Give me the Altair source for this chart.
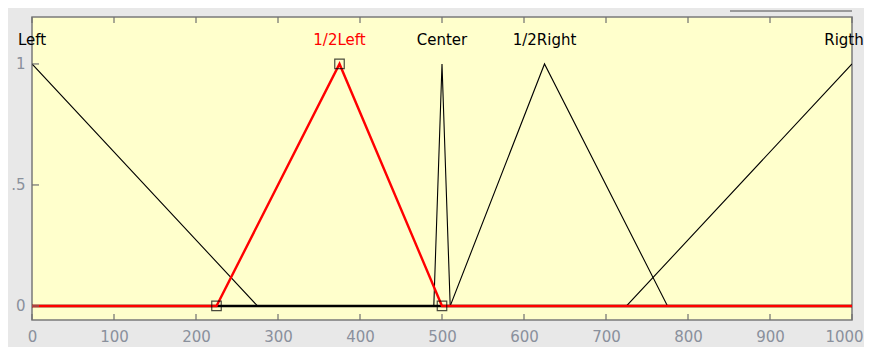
import altair as alt
import pandas as pd

# Membership functions (x breakpoints, y values)
mf_names = ["Left", "1/2Left", "Center", "1/2Right", "Rigth"]
mf_x = [
    [0, 275, 1000],
    [0, 225, 375, 500, 1000],
    [0, 490, 500, 510, 1000],
    [0, 510, 625, 775, 1000],
    [0, 725, 1000],
]
mf_y = [
    [1, 0, 0],
    [0, 0, 1, 0, 0],
    [0, 0, 1, 0, 0],
    [0, 0, 1, 0, 0],
    [0, 0, 1],
]
label_x = [0, 375, 500, 625, 1000]
label_y = [1.1, 1.1, 1.1, 1.1, 1.1]
selected = "1/2Left"
x_ticks = [0, 100, 200, 300, 400, 500, 600, 700, 800, 900, 1000]
y_ticks = [0, 0.5, 1]

rows = []
for name, xs_, ys_ in zip(mf_names, mf_x, mf_y):
    for i, (xv, yv) in enumerate(zip(xs_, ys_)):
        rows.append({"name": name, "x": xv, "y": yv, "order": i})
df = pd.DataFrame(rows)
sel_df = df[df["name"] == selected]
oth_df = df[df["name"] != selected]
vert_df = sel_df[(sel_df["x"] > 0) & (sel_df["x"] < 1000)]
lab_df = pd.DataFrame({"name": mf_names, "x": label_x, "y": label_y,
                       "col": ["red" if n == selected else "black" for n in mf_names]})
lab_main = lab_df[lab_df["x"] < 1000]
lab_edge = lab_df[lab_df["x"] >= 1000]
tick_df = pd.DataFrame({"x": x_ticks})
base_df = pd.DataFrame({"x": [0, 1000], "y": [0, 0]})

FONT = "DejaVu Sans"
LABEL_COL = "#8a909c"
W, H = 820, 303

xs = alt.Scale(domain=[0, 1000], nice=False, zero=False)
ys = alt.Scale(domain=[-0.058, 1.194], nice=False, zero=False)

label_expr = "datum.value == 0.5 ? '.5' : datum.value == 1 ? '1' : '0'"

x_enc = alt.X("x:Q", scale=xs,
              axis=alt.Axis(values=x_ticks, ticks=False, domain=False, grid=False,
                            format="d",
                            labelFont=FONT, labelFontSize=15, labelColor=LABEL_COL,
                            labelPadding=9, title=None, labelFlush=False,
                            labelOffset={"condition": {"test": "datum.value == 1000", "value": -8},
                                         "value": 0}))
y_enc = alt.Y("y:Q", scale=ys,
              axis=alt.Axis(values=y_ticks, ticks=False, domain=False, grid=False,
                            labelFont=FONT, labelFontSize=15, labelColor=LABEL_COL,
                            labelPadding=7, title=None, labelExpr=label_expr))

others = alt.Chart(oth_df).mark_line(color="black", strokeWidth=1.1, clip=True).encode(
    x=x_enc, y=y_enc, detail="name:N", order="order:Q")

base_black = alt.Chart(base_df).mark_line(color="black", strokeWidth=2.6).encode(
    x=alt.X("x:Q", scale=xs), y=alt.Y("y:Q", scale=ys))

sel_line = alt.Chart(sel_df).mark_line(color="red", strokeWidth=2.4).encode(
    x=alt.X("x:Q", scale=xs), y=alt.Y("y:Q", scale=ys), order="order:Q")

squares = alt.Chart(vert_df).mark_square(filled=False, color="black", size=90,
                                          strokeWidth=1.2).encode(
    x=alt.X("x:Q", scale=xs), y=alt.Y("y:Q", scale=ys))

labels = alt.Chart(lab_main).mark_text(font=FONT, fontSize=15, baseline="middle",
                                        align="center").encode(
    x=alt.X("x:Q", scale=xs), y=alt.Y("y:Q", scale=ys),
    text="name:N", color=alt.Color("col:N", scale=None))
labels_edge = alt.Chart(lab_edge).mark_text(font=FONT, fontSize=15, baseline="middle",
                                             align="center", dx=-8).encode(
    x=alt.X("x:Q", scale=xs), y=alt.Y("y:Q", scale=ys),
    text="name:N", color=alt.Color("col:N", scale=None))

ticks_bottom = alt.Chart(tick_df).mark_rule(color="#707070", strokeWidth=1.2).encode(
    x=alt.X("x:Q", scale=xs), y=alt.value(H), y2=alt.value(H - 6))
ticks_top = alt.Chart(tick_df).mark_rule(color="#707070", strokeWidth=1.2).encode(
    x=alt.X("x:Q", scale=xs), y=alt.value(0), y2=alt.value(6))
ytick_df = pd.DataFrame({"y": y_ticks})
ticks_left = alt.Chart(ytick_df).mark_rule(color="#707070", strokeWidth=1.2).encode(
    y=alt.Y("y:Q", scale=ys), x=alt.value(0), x2=alt.value(7))

top_line = alt.Chart(pd.DataFrame({"a": [0]})).mark_rule(color="#9a9a9a", strokeWidth=2).encode(
    x=alt.value(698), x2=alt.value(820), y=alt.value(-6))

chart = alt.layer(
    others, base_black, sel_line, squares, labels, labels_edge,
    ticks_bottom, ticks_top, ticks_left, top_line
).properties(
    width=W, height=H,
    background="#e8e8e8",
    autosize=alt.AutoSizeParams(type="none"),
    padding={"left": 24, "top": 9, "right": 12, "bottom": 27},
).configure_view(
    fill="#ffffcc", stroke="#7a7a7a", strokeWidth=1.5
)

chart.save("out.html", embed_options={"renderer": "svg", "actions": False})
